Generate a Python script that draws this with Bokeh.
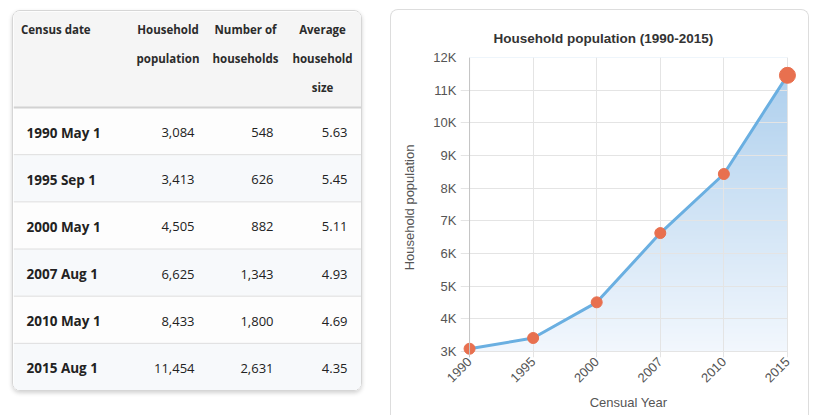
import numpy as np
from math import pi
from bokeh.plotting import figure
from bokeh.layouts import row
from bokeh.models import Range1d, FixedTicker, Span
from bokeh.core.properties import value
from bokeh.embed import file_html
from bokeh.resources import INLINE

# ---------------- data ----------------
census_dates = ["1990 May 1", "1995 Sep 1", "2000 May 1", "2007 Aug 1", "2010 May 1", "2015 Aug 1"]
household_population = [3084, 3413, 4505, 6625, 8433, 11454]
number_of_households = [548, 626, 882, 1343, 1800, 2631]
average_household_size = [5.63, 5.45, 5.11, 4.93, 4.69, 4.35]
census_years = ["1990", "1995", "2000", "2007", "2010", "2015"]
table_headers = [["Census date"], ["Household", "population"], ["Number of", "households"],
                 ["Average", "household", "size"]]
chart_title = "Household population (1990-2015)"
x_axis_title = "Censual Year"
y_axis_title = "Household population"
y_tick_values = [3000, 4000, 5000, 6000, 7000, 8000, 9000, 10000, 11000, 12000]
y_tick_labels = ["3K", "4K", "5K", "6K", "7K", "8K", "9K", "10K", "11K", "12K"]

TABLE_FONT = "Open Sans"
CHART_FONT = "Liberation Sans"

# ---------------- table card ----------------
T_W, T_H = 350, 381
HEADER_H = 96
ROW_H = (T_H - 2 - HEADER_H) / len(census_dates)

tbl = figure(width=T_W, height=T_H, x_range=Range1d(0, T_W), y_range=Range1d(T_H, 0),
             x_axis_location=None, y_axis_location=None, toolbar_location=None,
             output_backend="svg", min_border=0, outline_line_color=None,
             background_fill_color="white", border_fill_color="white")
tbl.grid.visible = False
tbl.frame_align = False
tbl.margin = (10, 0, 0, 12)
tbl.styles = {"border": "1px solid #d6d6d6", "border-radius": "8px",
              "box-shadow": "0 2px 4px rgba(0,0,0,0.18)", "overflow": "hidden"}

tbl.quad(left=0, right=T_W, top=0, bottom=HEADER_H, fill_color="#f5f5f5", line_color=None)
row_tops = [HEADER_H + i * ROW_H for i in range(len(census_dates))]
row_bots = [t + ROW_H for t in row_tops]
row_fill = ["#fdfdfd" if i % 2 == 0 else "#f7f9fb" for i in range(len(census_dates))]
tbl.quad(left=0, right=T_W, top=row_tops,
         bottom=[b + (2 if i == len(row_bots) - 1 else 0) for i, b in enumerate(row_bots)],
         fill_color=row_fill, line_color=None)
tbl.segment(x0=0, x1=T_W, y0=row_bots[:-1], y1=row_bots[:-1], line_color="#dedede", line_width=1)
tbl.segment(x0=0, x1=T_W, y0=HEADER_H, y1=HEADER_H, line_color="#d2d2d2", line_width=2)

# header texts
hdr_x = [7.5, 154.5, 232, 309]
hdr_align = ["left", "center", "center", "center"]
HDR_LINE = 29
hx, hy, ht, ha = [], [], [], []
for ci, lines in enumerate(table_headers):
    for li, txt in enumerate(lines):
        hx.append(hdr_x[ci]); hy.append(18 + li * HDR_LINE); ht.append(txt); ha.append(hdr_align[ci])
tbl.text(x=hx, y=hy, text=ht, text_align=ha, text_baseline="middle",
         text_font=value(TABLE_FONT), text_font_style="bold", text_font_size="11.5px", text_color="#2b2b2b")

row_mid = [t + ROW_H / 2 + 1.5 for t in row_tops]
tbl.text(x=13, y=row_mid, text=census_dates, text_align="left", text_baseline="middle",
         text_font=value(TABLE_FONT), text_font_style="bold", text_font_size="13.5px", text_color="#222222")
tbl.text(x=181, y=row_mid, text=[f"{v:,}" for v in household_population], text_align="right",
         text_baseline="middle", text_font=value(TABLE_FONT), text_font_size="13px", text_color="#222222")
tbl.text(x=260, y=row_mid, text=[f"{v:,}" for v in number_of_households], text_align="right",
         text_baseline="middle", text_font=value(TABLE_FONT), text_font_size="13px", text_color="#222222")
tbl.text(x=334, y=row_mid, text=[f"{v:.2f}" for v in average_household_size], text_align="right",
         text_baseline="middle", text_font=value(TABLE_FONT), text_font_size="13px", text_color="#222222")

# ---------------- chart card ----------------
C_W, C_H = 419, 406
F_L, F_R, F_T, F_B = 69, 403, 47, 346      # frame edges inside the canvas (px)
PAD_X_PX, PAD_Y_PX = 9, 6
n = len(census_years)
x_pos = list(range(n))
x_span = n - 1
px_per_x = ((F_R - F_L) - 2 * PAD_X_PX) / x_span
pad_x = PAD_X_PX / px_per_x
y_lo, y_hi = y_tick_values[0], y_tick_values[-1]
px_per_y = ((F_B - F_T) - PAD_Y_PX) / (y_hi - y_lo)
pad_y = PAD_Y_PX / px_per_y

ch = figure(width=C_W, height=C_H, x_range=Range1d(-pad_x, x_span + pad_x),
            y_range=Range1d(y_lo - pad_y, y_hi),
            min_border_left=F_L, min_border_right=(C_W - 2) - F_R, min_border_top=F_T,
            min_border_bottom=(C_H - 1) - F_B, toolbar_location=None, output_backend="svg",
            outline_line_color=None, title=chart_title,
            background_fill_color="white", border_fill_color="white")
ch.frame_align = False
ch.margin = (9, 0, 0, 28)
ch.styles = {"border": "1px solid #dddddd", "border-bottom": "none",
             "border-radius": "8px 8px 0 0", "overflow": "hidden"}

ch.title.text_font = CHART_FONT
ch.title.text_font_size = "13.5px"
ch.title.text_font_style = "bold"
ch.title.text_color = "#333333"
ch.title.align = "left"
ch.title.offset = 33
ch.title.standoff = 24

ch.xaxis.ticker = FixedTicker(ticks=x_pos)
ch.xaxis.major_label_overrides = {i: yr for i, yr in enumerate(census_years)}
ch.xaxis.major_label_orientation = pi / 4
ch.xaxis.axis_line_color = None
ch.xaxis.major_tick_line_color = None
ch.xaxis.major_tick_out = 0
ch.xaxis.major_tick_in = 0
ch.xaxis.minor_tick_line_color = None
ch.xaxis.major_label_standoff = 2
ch.xaxis.axis_label = x_axis_title
ch.xaxis.axis_label_standoff = 6

ch.yaxis.ticker = FixedTicker(ticks=y_tick_values)
ch.yaxis.major_label_overrides = dict(zip(y_tick_values, y_tick_labels))
ch.yaxis.axis_line_color = None
ch.yaxis.major_tick_line_color = None
ch.yaxis.major_tick_out = 0
ch.yaxis.major_tick_in = 0
ch.yaxis.minor_tick_line_color = None
ch.yaxis.major_label_standoff = 4
ch.yaxis.axis_label = y_axis_title
ch.yaxis.axis_label_standoff = 13

for ax in (ch.xaxis, ch.yaxis):
    ax.major_label_text_font = CHART_FONT
    ax.major_label_text_font_size = "13px"
    ax.major_label_text_color = "#555555"
    ax.axis_label_text_font = CHART_FONT
    ax.axis_label_text_font_size = "13px"
    ax.axis_label_text_font_style = "normal"
    ax.axis_label_text_color = "#555555"

ch.xgrid.ticker = FixedTicker(ticks=x_pos)
ch.ygrid.ticker = FixedTicker(ticks=y_tick_values)
ch.ygrid.cross_bounds = (-pad_x, x_span)
ch.grid.grid_line_color = "#e4e4e4"

# gradient fill under the line
G_N = 300
top_rgb = np.array([170, 205, 236], dtype=float)
bot_rgb = np.array([242, 247, 253], dtype=float)
grad = np.empty((G_N, 1), dtype=np.uint32)
gv = grad.view(dtype=np.uint8).reshape((G_N, 1, 4))
for i in range(G_N):
    f = i / (G_N - 1)
    gv[i, 0, :3] = np.round(bot_rgb + (top_rgb - bot_rgb) * f).astype(np.uint8)
    gv[i, 0, 3] = 255
ch.image_rgba(image=[grad], x=0, y=y_lo, dw=x_span, dh=y_hi - y_lo, level="image")
ch.patch(x=x_pos + [x_span, 0], y=household_population + [y_hi, y_hi],
         fill_color="white", line_color=None, level="image")

# y axis line at the first category
ch.add_layout(Span(location=0, dimension="height", line_color="#c4c4c4", line_width=1))

ch.line(x_pos, household_population, line_color="#6aafe1", line_width=3)
marker_sizes = [16 if i == n - 1 else 11 for i in range(n)]
ch.scatter(x_pos, household_population, size=marker_sizes, fill_color="#e8704f", line_color="#e8704f")

layout = row(tbl, ch)
open("out.html", "w").write(file_html(layout, INLINE))
